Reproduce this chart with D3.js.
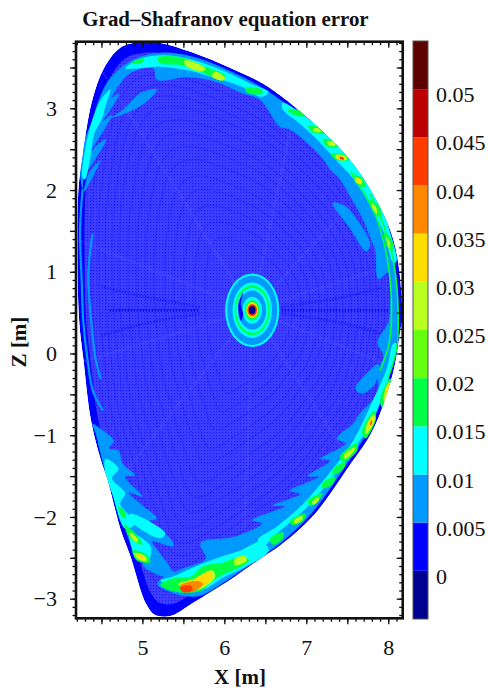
<!DOCTYPE html>
<html>
<head>
<meta charset="utf-8">
<script src="https://cdn.jsdelivr.net/npm/d3@7"></script>
<style>
  html, body { margin: 0; padding: 0; background: #fff; }
  text { font-family: "Liberation Serif", serif; fill: #111; }
</style>
</head>
<body>
<div id="graph"></div>
<script>
// contour levels and colours of the bar
const levels = [0, 0.005, 0.01, 0.015, 0.02, 0.025, 0.03, 0.035, 0.04, 0.045, 0.05]
const levelLabels = ['0', '0.005', '0.01', '0.015', '0.02', '0.025', '0.03', '0.035', '0.04', '0.045', '0.05']
const levelColors = ['#000090', '#0000ff', '#0099ff', '#00ffff', '#00ff44', '#66ff11', '#bbff22', '#ffdd00', '#ff8800', '#ff3c00', '#bb0000', '#5c0000']

// plasma boundary [X, Z] in metres
const boundary = [[4.98, 3.81], [5.22, 3.80], [5.62, 3.68], [6.04, 3.51], [6.44, 3.32], [6.68, 3.16], [7.09, 2.82], [7.50, 2.41], [7.78, 2.01], [8.02, 1.52], [8.12, 1.12], [8.17, 0.42], [8.15, 0.30], [8.06, -0.23], [7.82, -0.92], [7.50, -1.41], [7.09, -1.98], [6.68, -2.35], [6.44, -2.51], [6.04, -2.79], [5.62, -3.05], [5.38, -3.20], [5.26, -3.22], [5.14, -3.19], [5.05, -3.07], [5.00, -2.96], [4.85, -2.47], [4.73, -2.14], [4.57, -1.53], [4.49, -1.29], [4.37, -0.80], [4.28, -0.07], [4.23, 0.38], [4.21, 0.99], [4.22, 2.01], [4.27, 2.41], [4.33, 2.82], [4.40, 3.14], [4.52, 3.47], [4.73, 3.74]]

const magneticAxis = [6.34, 0.53]

// rings round the magnetic axis, outermost first
const ringValues = [0.012, 0.007, 0.012, 0.017, 0.012, 0.007, 0.012, 0.017, 0.032, 0.042, -0.002]
const ringRx = [0.33, 0.305, 0.24, 0.215, 0.195, 0.17, 0.12, 0.09, 0.072, 0.058, 0.04]
const ringRz = [0.45, 0.425, 0.34, 0.305, 0.275, 0.24, 0.165, 0.125, 0.097, 0.075, 0.05]

// surfaces used for the fine moire of the interior, as fraction of the boundary
const fluxSurfaces = [0.27, 0.33, 0.39, 0.45, 0.5, 0.56, 0.61, 0.66, 0.71, 0.76, 0.8, 0.84, 0.88, 0.92]
const interiorSurface = 0.96
const spokeAngles = [18, 47, 78, 122, 158, 197, 232, 268, 303, 338]
const midplaneStreaks = [[[4.6, 0.53], [5.7, 0.53]], [[6.7, 0.53], [8.0, 0.53]]]
const fanStreaks = [[[4.5, 0.82], [5.0, 0.7], [5.7, 0.57]], [[4.5, 0.22], [5.0, 0.36], [5.7, 0.49]], [[7.9, 0.8], [7.4, 0.68], [6.7, 0.57]], [[7.9, 0.25], [7.4, 0.38], [6.7, 0.49]]]

const band005 = [
  [[4.39, 2.86], [4.49, 3.16], [4.61, 3.37], [4.88, 3.59], [5.22, 3.68], [5.62, 3.63], [6.04, 3.47], [6.50, 3.23], [7.05, 2.81], [7.41, 2.47], [7.72, 2.07], [7.96, 1.58], [8.07, 1.13], [8.12, 0.42], [8.05, -0.13], [7.80, -0.86], [7.48, -1.37], [7.06, -1.96], [6.66, -2.34], [6.41, -2.51], [6.04, -2.77], [5.87, -2.88], [5.68, -2.97], [5.43, -2.95], [5.18, -2.82], [5.28, -2.73], [5.49, -2.63], [5.77, -2.51], [5.71, -2.32], [6.13, -2.24], [6.46, -2.08], [6.34, -2.04], [6.74, -1.87], [6.59, -1.86], [6.93, -1.72], [6.80, -1.68], [7.15, -1.51], [7.02, -1.50], [7.29, -1.31], [7.17, -1.29], [7.48, -1.10], [7.37, -1.04], [7.57, -0.86], [7.63, -0.76], [7.87, -0.47], [7.87, -0.23], [7.94, -0.03], [7.87, 0.14], [8.00, 0.38], [8.02, 0.54], [8.00, 0.99], [7.88, 0.91], [7.84, 1.27], [7.80, 1.37], [7.69, 1.64], [7.56, 1.88], [7.41, 2.13], [7.29, 2.25], [7.21, 2.37], [6.96, 2.62], [6.80, 2.74], [6.68, 2.77], [6.44, 3.10], [6.20, 3.19], [5.91, 3.32], [5.55, 3.38], [5.18, 3.35], [5.13, 3.49], [4.85, 3.43], [4.70, 3.26], [4.61, 3.10], [4.52, 2.90], [4.40, 2.70], [4.30, 2.41], [4.27, 2.01], [4.24, 2.25], [4.30, 2.62]],
  [[5.18, 3.23], [4.98, 3.19], [4.76, 2.98], [4.61, 2.88], [4.85, 2.96], [5.04, 3.07]],
  [[4.29, 1.98], [4.49, 2.37], [4.34, 2.19]],
  [[4.31, 2.22], [4.56, 2.62], [4.38, 2.48]],
  [[4.36, 2.48], [4.63, 2.92], [4.44, 2.75]],
  [[4.44, 2.75], [4.72, 3.18], [4.52, 3.02]],
  [[4.39, -0.86], [4.49, -0.92], [4.65, -1.07], [4.59, -1.16], [4.71, -1.19], [4.76, -1.35], [4.91, -1.49], [4.79, -1.51], [5.00, -1.75], [4.83, -1.70], [5.00, -1.86], [5.18, -2.02], [5.06, -2.06], [5.34, -2.26], [5.38, -2.36], [5.12, -2.30], [5.22, -2.45], [5.34, -2.63], [4.89, -2.38], [4.76, -2.02], [4.61, -1.65], [4.49, -1.23], [4.43, -0.98]],
  [[5.01, -2.60], [5.37, -2.75], [5.40, -2.69], [5.04, -2.51]],
  [[7.32, 1.84], [7.48, 1.80], [7.66, 1.58], [7.78, 1.33], [7.73, 1.25], [7.54, 1.52]],
  [[7.60, -0.43], [7.72, -0.26], [7.88, -0.13], [7.84, -0.37], [7.68, -0.49]]
]
const band010 = [
  [[4.79, 3.49], [4.98, 3.61], [5.28, 3.65], [5.62, 3.59], [6.01, 3.45], [6.32, 3.30], [6.54, 3.20], [6.46, 3.14], [6.20, 3.27], [5.89, 3.37], [5.58, 3.46], [5.22, 3.51], [4.98, 3.49]],
  [[4.61, 3.23], [4.55, 3.03], [4.51, 2.88], [4.41, 2.68], [4.37, 2.43], [4.30, 2.13], [4.27, 2.15], [4.30, 2.49], [4.39, 2.86], [4.49, 3.10]],
  [[6.71, 3.07], [6.99, 2.90], [7.23, 2.71], [7.48, 2.47], [7.68, 2.19], [7.88, 1.88], [8.02, 1.49], [8.10, 1.13], [8.06, 1.11], [7.95, 1.47], [7.79, 1.79], [7.58, 2.13], [7.33, 2.40], [7.11, 2.64], [6.90, 2.83], [6.71, 2.99]],
  [[8.10, 0.12], [8.04, -0.19], [7.84, -0.74], [7.60, -1.14], [7.29, -1.55], [6.99, -1.90], [6.68, -2.17], [6.46, -2.36], [6.41, -2.28], [6.65, -2.11], [6.96, -1.84], [7.26, -1.49], [7.57, -1.07], [7.80, -0.60], [7.98, -0.19], [8.06, 0.12]],
  [[5.22, -2.78], [5.46, -2.87], [5.71, -2.90], [6.01, -2.73], [6.32, -2.58], [6.54, -2.41], [6.46, -2.30], [6.20, -2.41], [5.89, -2.51], [5.59, -2.63], [5.37, -2.73]],
  [[4.55, -1.29], [4.71, -1.41], [4.63, -1.53], [4.79, -1.71], [4.73, -1.84], [4.91, -2.08], [4.79, -2.14], [4.63, -1.71], [4.54, -1.41]],
  [[4.85, -2.20], [5.10, -2.36], [5.07, -2.53], [4.93, -2.51]],
  [[4.85, -1.96], [5.28, -2.20], [5.22, -2.26], [4.85, -2.04]]
]
const band015 = [
  [[4.92, 3.59], [5.02, 3.61], [4.99, 3.55], [4.87, 3.55]],
  [[5.18, 3.62], [5.44, 3.63], [5.77, 3.51], [6.01, 3.40], [5.98, 3.34], [5.75, 3.43], [5.46, 3.53], [5.22, 3.55]],
  [[6.26, 3.25], [6.46, 3.23], [6.46, 3.18], [6.28, 3.19]],
  [[6.77, 2.98], [6.93, 2.98], [6.99, 2.91], [6.87, 2.91]],
  [[7.02, 2.79], [7.17, 2.76], [7.23, 2.69], [7.07, 2.71]],
  [[7.20, 2.62], [7.35, 2.60], [7.39, 2.53], [7.24, 2.54]],
  [[7.30, 2.44], [7.48, 2.43], [7.52, 2.37], [7.36, 2.37]],
  [[7.56, 2.19], [7.68, 2.15], [7.72, 2.04], [7.61, 2.08]],
  [[7.77, 1.88], [7.88, 1.82], [7.92, 1.66], [7.82, 1.73]],
  [[7.95, 1.48], [8.04, 1.40], [8.06, 1.25], [7.99, 1.30]],
  [[7.90, -0.58], [8.02, -0.31], [8.05, -0.37], [7.94, -0.68]],
  [[7.68, -0.95], [7.83, -0.70], [7.85, -0.80], [7.72, -1.04]],
  [[7.41, -1.26], [7.62, -1.10], [7.62, -1.19], [7.45, -1.33]],
  [[7.33, -1.41], [7.48, -1.33], [7.44, -1.43], [7.32, -1.48]],
  [[7.20, -1.58], [7.35, -1.51], [7.32, -1.60], [7.20, -1.65]],
  [[7.02, -1.80], [7.20, -1.71], [7.15, -1.80], [7.05, -1.87]],
  [[6.80, -2.05], [6.99, -1.96], [6.96, -2.05], [6.83, -2.10]],
  [[6.56, -2.26], [6.72, -2.19], [6.71, -2.27], [6.59, -2.34]],
  [[5.22, -2.83], [5.38, -2.75], [5.59, -2.73], [5.74, -2.60], [5.98, -2.56], [6.21, -2.48], [6.30, -2.53], [6.22, -2.60], [6.02, -2.69], [5.85, -2.79], [5.72, -2.90], [5.55, -2.93], [5.34, -2.90]],
  [[4.78, -2.09], [4.95, -2.24], [5.00, -2.34], [4.85, -2.26]],
  [[4.71, -1.87], [4.80, -1.96], [4.78, -2.02], [4.72, -1.95]],
  [[4.88, -2.41], [5.05, -2.46], [5.10, -2.55], [4.94, -2.54]]
]
const band025 = [
  [[5.52, 3.59], [5.77, 3.49], [5.73, 3.45], [5.52, 3.53]],
  [[5.89, 3.45], [6.01, 3.37], [5.98, 3.34], [5.85, 3.39]],
  [[7.10, 2.76], [7.17, 2.74], [7.17, 2.71], [7.08, 2.72]],
  [[7.26, 2.60], [7.35, 2.58], [7.35, 2.54], [7.27, 2.55]],
  [[7.35, 2.43], [7.49, 2.41], [7.49, 2.37], [7.37, 2.38]],
  [[7.60, 2.16], [7.68, 2.11], [7.67, 2.07], [7.60, 2.10]],
  [[7.80, 1.84], [7.86, 1.77], [7.86, 1.71], [7.81, 1.77]],
  [[7.98, 1.43], [8.02, 1.36], [8.02, 1.27], [7.99, 1.33]],
  [[7.94, -0.55], [8.01, -0.35], [8.02, -0.38], [7.96, -0.60]],
  [[7.72, -0.92], [7.82, -0.74], [7.84, -0.80], [7.73, -0.99]],
  [[7.46, -1.24], [7.59, -1.15], [7.59, -1.18], [7.47, -1.29]],
  [[7.07, -1.82], [7.15, -1.76], [7.15, -1.80], [7.09, -1.85]],
  [[6.85, -2.04], [6.95, -1.99], [6.95, -2.03], [6.86, -2.08]],
  [[5.44, -2.82], [5.65, -2.75], [5.85, -2.65], [5.89, -2.73], [5.77, -2.85], [5.59, -2.90]],
  [[6.13, -2.51], [6.26, -2.48], [6.27, -2.54], [6.13, -2.59]],
  [[4.85, -2.19], [4.95, -2.28], [4.93, -2.31], [4.86, -2.25]],
  [[4.90, -2.44], [5.04, -2.48], [5.05, -2.54], [4.94, -2.51]]
]
const band030 = [
  [[5.62, -2.79], [5.83, -2.67], [5.85, -2.75], [5.71, -2.85]],
  [[4.95, -2.45], [5.01, -2.49], [5.01, -2.52], [4.95, -2.49]],
  [[7.39, 2.41], [7.48, 2.39], [7.46, 2.37], [7.39, 2.38]],
  [[7.75, -0.86], [7.81, -0.78], [7.81, -0.83], [7.76, -0.92]],
  [[7.96, -0.46], [8.00, -0.37], [8.00, -0.43], [7.97, -0.51]],
  [[7.62, 2.15], [7.68, 2.12], [7.67, 2.08], [7.62, 2.10]]
]
const band035 = [
  [[5.46, -2.84], [5.67, -2.78], [5.74, -2.82], [5.59, -2.92]]
]
const band040 = [
  [[5.46, -2.86], [5.59, -2.84], [5.61, -2.90], [5.50, -2.92]],
  [[7.41, 2.41], [7.46, 2.39], [7.45, 2.37], [7.41, 2.38]],
  [[7.78, -0.85], [7.80, -0.81], [7.80, -0.85], [7.78, -0.88]]
]
const lowPatches = [
  [[6.23, 0.75], [6.17, 0.60], [6.20, 0.40], [6.23, 0.48], [6.20, 0.60]]
]
// thin filaments along the edge
const arcs005 = [
  [[4.27, 2.01], [4.24, 1.52], [4.26, 0.87], [4.28, 0.38], [4.33, -0.07], [4.40, -0.47], [4.52, -0.70]],
  [[4.39, 1.46], [4.34, 0.95], [4.37, 0.46], [4.43, -0.07], [4.49, -0.31]]
]
const arcs015 = [
  [[7.78, 1.95], [7.96, 1.52], [8.07, 1.09], [8.12, 0.54], [8.10, 0.05], [8.00, -0.29]],
  [[7.54, 2.23], [7.84, 1.70], [7.99, 1.15], [8.04, 0.54], [8.01, 0.12], [7.90, -0.21]]
]

const width = 488, height = 690
const margin = { top: 41.7, right: 85.3, bottom: 71.7, left: 76 }
const barLeft = 413, barWidth = 15, barTop = 41, barBottom = 619

const x = d3.scaleLinear().domain([4.19, 8.176]).range([margin.left, width - margin.right])
const y = d3.scaleLinear().domain([-3.24, 3.815]).range([height - margin.bottom, margin.top])
const yBar = d3.scaleLinear().domain([-0.005, 0.055]).range([barBottom, barTop])
const color = d3.scaleThreshold().domain(levels).range(levelColors)

const svg = d3.select('#graph').append('svg').attr('width', width).attr('height', height).style('display', 'block')
const defs = svg.append('defs')

const closed = d3.line().x(d => x(d[0])).y(d => y(d[1])).curve(d3.curveCatmullRomClosed.alpha(0.5))
const open = d3.line().x(d => x(d[0])).y(d => y(d[1])).curve(d3.curveCatmullRom.alpha(0.5))

defs.append('clipPath').attr('id', 'plasma').append('path').attr('d', closed(boundary))
defs.append('filter').attr('id', 'soft').append('feGaussianBlur').attr('stdDeviation', 0.55)

// moire du fond
const moire = defs.append('pattern').attr('id', 'moire').attr('patternUnits', 'userSpaceOnUse').attr('width', 3).attr('height', 3)
moire.append('rect').attr('width', 3).attr('height', 3).attr('fill', '#3e3eff')
moire.append('rect').attr('width', 1.2).attr('height', 1.2).attr('fill', '#1c1cff')

const shrink = f => boundary.map(p => [magneticAxis[0] + (p[0] - magneticAxis[0]) * f, magneticAxis[1] + (p[1] - magneticAxis[1]) * f])

const map = svg.append('g').attr('clip-path', 'url(#plasma)')
map.append('path').attr('d', closed(boundary)).attr('fill', color(0.002))
map.append('path').attr('d', closed(shrink(interiorSurface))).attr('fill', 'url(#moire)')

map.append('g').selectAll('path').data(fluxSurfaces).join('path')
  .attr('d', f => closed(shrink(f)))
  .attr('fill', 'none')
  .attr('stroke', '#0808ff')
  .attr('stroke-width', 1.5)
  .attr('stroke-dasharray', '2 1.5')
  .attr('opacity', 0.3)

map.append('g').selectAll('line').data(spokeAngles).join('line')
  .attr('x1', x(magneticAxis[0]))
  .attr('y1', y(magneticAxis[1]))
  .attr('x2', d => x(magneticAxis[0] + 4 * Math.cos(d * Math.PI / 180)))
  .attr('y2', d => y(magneticAxis[1] + 4 * Math.sin(d * Math.PI / 180)))
  .attr('stroke', '#5c5cff')
  .attr('stroke-width', 3)
  .attr('stroke-dasharray', '1.5 1.5')
  .attr('opacity', 0.4)

map.append('g').selectAll('path').data(midplaneStreaks).join('path')
  .attr('d', open)
  .attr('fill', 'none')
  .attr('stroke', '#0808e0')
  .attr('stroke-width', 3)
  .attr('stroke-dasharray', '1.5 1.5')
  .attr('opacity', 0.8)
map.append('g').selectAll('path').data(fanStreaks).join('path')
  .attr('d', open)
  .attr('fill', 'none')
  .attr('stroke', '#1010f0')
  .attr('stroke-width', 3)
  .attr('stroke-dasharray', '1.5 1.5')
  .attr('opacity', 0.5)

const bands = map.append('g').attr('filter', 'url(#soft)')
const drawBand = (polys, value) => bands.append('g').selectAll('path').data(polys).join('path')
  .attr('d', closed)
  .attr('fill', color(value))
const drawArcs = (lines, value, w) => bands.append('g').selectAll('path').data(lines).join('path')
  .attr('d', open)
  .attr('fill', 'none')
  .attr('stroke', color(value))
  .attr('stroke-width', w)

drawBand(band005, 0.007)
drawArcs(arcs005, 0.007, 2.2)
drawBand(band010, 0.012)
drawArcs(arcs015, 0.017, 1.6)
drawBand(band015, 0.017)
drawBand(band025, 0.027)
drawBand(band030, 0.032)
drawBand(band035, 0.037)
drawBand(band040, 0.042)

// anneaux autour de l'axe magnetique
const rings = map.append('g').attr('filter', 'url(#soft)')
rings.selectAll('ellipse').data(ringValues).join('ellipse')
  .attr('cx', x(magneticAxis[0]))
  .attr('cy', y(magneticAxis[1]))
  .attr('rx', (d, i) => x(magneticAxis[0] + ringRx[i]) - x(magneticAxis[0]))
  .attr('ry', (d, i) => y(magneticAxis[1]) - y(magneticAxis[1] + ringRz[i]))
  .attr('fill', d => color(d))
rings.selectAll('path').data(lowPatches).join('path').attr('d', closed).attr('fill', color(0.002))

// axes : les graduations vont toutes dans le meme sens
const minorX = d3.range(42, 82).map(d => d / 10)
const majorX = d3.range(9, 17).map(d => d / 2)
const minorY = d3.range(-32, 39).map(d => d / 10)
const majorY = d3.range(-6, 8).map(d => d / 2)

const tickAxis = (maker, scale, values, size, pos) => {
  svg.append('g').attr('transform', pos).call(maker(scale).tickValues(values).tickSize(size).tickFormat(''))
    .call(g => g.select('.domain').remove())
    .call(g => g.selectAll('line').attr('stroke', '#111').attr('stroke-width', 1.3))
}
const bottomPos = `translate(0,${height - margin.bottom})`
const topPos = `translate(0,${margin.top})`
const leftPos = `translate(${margin.left},0)`
const rightPos = `translate(${width - margin.right},0)`

for (const pos of [bottomPos, topPos]) {
  tickAxis(d3.axisBottom, x, minorX, 3.5, pos)
  tickAxis(d3.axisBottom, x, majorX, 6, pos)
}
for (const pos of [leftPos, rightPos]) {
  tickAxis(d3.axisLeft, y, minorY, 3.5, pos)
  tickAxis(d3.axisLeft, y, majorY, 6, pos)
}

svg.append('rect')
  .attr('x', margin.left).attr('y', margin.top)
  .attr('width', width - margin.left - margin.right)
  .attr('height', height - margin.top - margin.bottom)
  .attr('fill', 'none').attr('stroke', '#111').attr('stroke-width', 2.6)

const labelAxis = (g, axis) => g.call(axis.tickSize(0)).call(s => s.select('.domain').remove())
  .call(s => s.selectAll('text').style('font-family', '"Liberation Serif", serif').style('font-size', '22px').attr('fill', '#111'))

labelAxis(svg.append('g').attr('transform', bottomPos),
  d3.axisBottom(x).tickValues([5, 6, 7, 8]).tickFormat(d3.format('d')).tickPadding(21))
labelAxis(svg.append('g').attr('transform', leftPos),
  d3.axisLeft(y).tickValues([-3, -2, -1, 0, 1, 2, 3]).tickFormat(d3.format('d')).tickPadding(19))

svg.append('text').attr('x', 225.5).attr('y', 26).attr('text-anchor', 'middle')
  .style('font-size', '20.9px').style('font-weight', 'bold').text('Grad–Shafranov equation error')
svg.append('text').attr('x', 240).attr('y', 684).attr('text-anchor', 'middle')
  .style('font-size', '21px').style('font-weight', 'bold').text('X [m]')
svg.append('text').attr('transform', 'translate(26,342) rotate(-90)').attr('text-anchor', 'middle')
  .style('font-size', '21px').style('font-weight', 'bold').text('Z [m]')

// barre de couleurs
const edges = [-0.005, ...levels, 0.055]
svg.append('g').selectAll('rect').data(levelColors).join('rect')
  .attr('x', barLeft)
  .attr('y', (d, i) => yBar(edges[i + 1]))
  .attr('width', barWidth)
  .attr('height', (d, i) => yBar(edges[i]) - yBar(edges[i + 1]))
  .attr('fill', d => d)
svg.append('rect').attr('x', barLeft).attr('y', barTop).attr('width', barWidth).attr('height', barBottom - barTop)
  .attr('fill', 'none').attr('stroke', '#555').attr('stroke-width', 1)
svg.append('g').selectAll('text').data(levels).join('text')
  .attr('x', 436)
  .attr('y', d => yBar(d) + 13)
  .style('font-size', '22px')
  .text((d, i) => levelLabels[i])
</script>
</body>
</html>
